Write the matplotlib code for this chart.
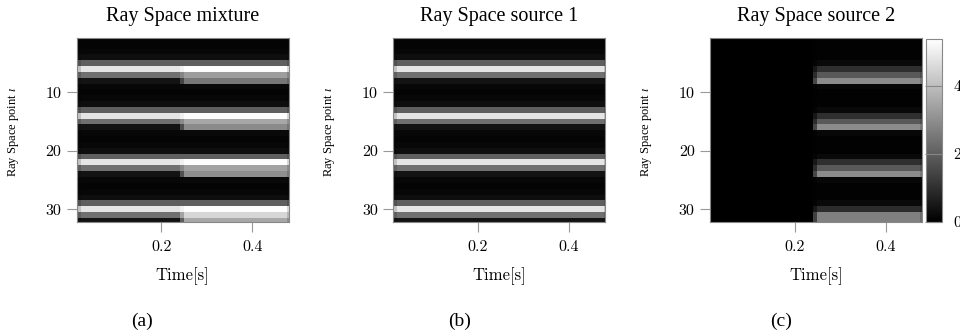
import numpy as np
import matplotlib
matplotlib.use('Agg')
import matplotlib.pyplot as plt

plt.rcParams['font.family'] = 'serif'
plt.rcParams['font.serif'] = ['Liberation Serif', 'DejaVu Serif']
plt.rcParams['mathtext.fontset'] = 'stix'

# time frames (edges in seconds), 58 frames
t_start = 0.0135
t_hop = 0.0081
n_frames = 58

# per-row magnitudes, rows 1..32
src1_rows = [0.10, 0.10, 0.15, 0.30, 2.00, 4.80, 2.35, 0.40,
             0.15, 0.10, 0.15, 0.30, 2.00, 4.80, 2.35, 0.40,
             0.15, 0.10, 0.15, 0.30, 2.00, 4.80, 2.35, 0.40,
             0.15, 0.10, 0.15, 0.30, 2.00, 4.80, 2.35, 0.40]
src2_rows = [0.05, 0.05, 0.05, 0.05, 0.20, 1.00, 1.90, 2.95,
             0.15, 0.05, 0.05, 0.05, 0.20, 1.00, 1.90, 2.95,
             0.15, 0.05, 0.05, 0.05, 0.20, 1.00, 1.90, 2.95,
             0.15, 0.05, 0.05, 0.05, 0.20, 0.95, 2.70, 2.70]
mix_after_rows = [0.10, 0.10, 0.15, 0.30, 2.00, 5.30, 3.30, 2.50,
                  0.20, 0.10, 0.15, 0.30, 2.00, 5.30, 3.50, 2.90,
                  0.20, 0.10, 0.15, 0.30, 2.00, 5.30, 3.40, 3.00,
                  0.20, 0.10, 0.15, 0.30, 2.00, 5.30, 4.50, 3.50]

# source 2 onset per frame (0 = silent, 1 = active)
onset = [0.0] * 28 + [0.5] + [1.0] * 29
# slight edge roll-off of the first/last frame
frame_gain = [0.85] + [1.0] * 56 + [0.85]

vmax = 5.36
titles = ['Ray Space mixture', 'Ray Space source 1', 'Ray Space source 2']
captions = ['(a)', '(b)', '(c)']

s1 = np.array(src1_rows)
s2 = np.array(src2_rows)
ma = np.array(mix_after_rows)
on = np.array(onset)
g = np.array(frame_gain)

img_src1 = np.outer(s1, g)
img_src2 = np.outer(s2, on * g)
img_mix = np.outer(s1, (1 - on) * g) + np.outer(ma, on * g)
images = [img_mix, img_src1, img_src2]

extent = [t_start, t_start + t_hop * n_frames, 32.5, 0.5]

fig = plt.figure(figsize=(9.6, 3.36), dpi=100)
lefts = [76.7, 393.3, 710.0]
for i in range(3):
    ax = fig.add_axes([lefts[i] / 960, 1 - 222 / 336, 212 / 960, 184 / 336])
    im = ax.imshow(images[i], cmap='gray', vmin=0, vmax=vmax, aspect='auto',
                   interpolation='nearest', extent=extent)
    ax.set_xlim(t_start, 0.48)
    ax.set_ylim(32.2, 0.7)
    ax.set_xticks([0.2, 0.4])
    ax.set_xticklabels(['0.2', '0.4'], family='cmr10', fontsize=11.5)
    ax.set_yticks([10, 20, 30])
    ax.set_yticklabels(['10', '20', '30'], family='cmr10', fontsize=11.5)
    ax.tick_params(direction='out', length=7, width=0.8, color='#999999')
    ax.tick_params(axis='x', pad=6)
    ax.tick_params(axis='y', pad=4)
    for sp in ax.spines.values():
        sp.set_color('#888888')
        sp.set_linewidth(0.8)
    ax.set_title(titles[i], fontsize=14.5, pad=12.5)
    ax.set_xlabel('Time[s]', family='cmr10', fontsize=12, va='center')
    ax.xaxis.set_label_coords(0.5, -0.293)
    ax.text(-0.30, 0.49, r'Ray Space point $\iota$', transform=ax.transAxes,
            rotation=90, ha='center', va='center', fontsize=9)

cax = fig.add_axes([925.7 / 960, 1 - 221.7 / 336, 16.6 / 960, 182.4 / 336])
cb = fig.colorbar(im, cax=cax)
cb.set_ticks([0, 2, 4])
cb.set_ticklabels(['0', '2', '4'])
for lab in cax.get_yticklabels():
    lab.set_family('cmr10')
    lab.set_fontsize(11.5)
cax.tick_params(direction='in', length=12, width=0.8, color='#888888', pad=8)
cb.outline.set_edgecolor('#888888')
cb.outline.set_linewidth(0.8)

cap_x = [141.7, 460.0, 781.0]
for i in range(3):
    fig.text(cap_x[i] / 960, 1 - 321.7 / 336, captions[i], ha='center',
             va='center', fontsize=14)

fig.savefig('out.png', dpi=100)
plt.close(fig)
